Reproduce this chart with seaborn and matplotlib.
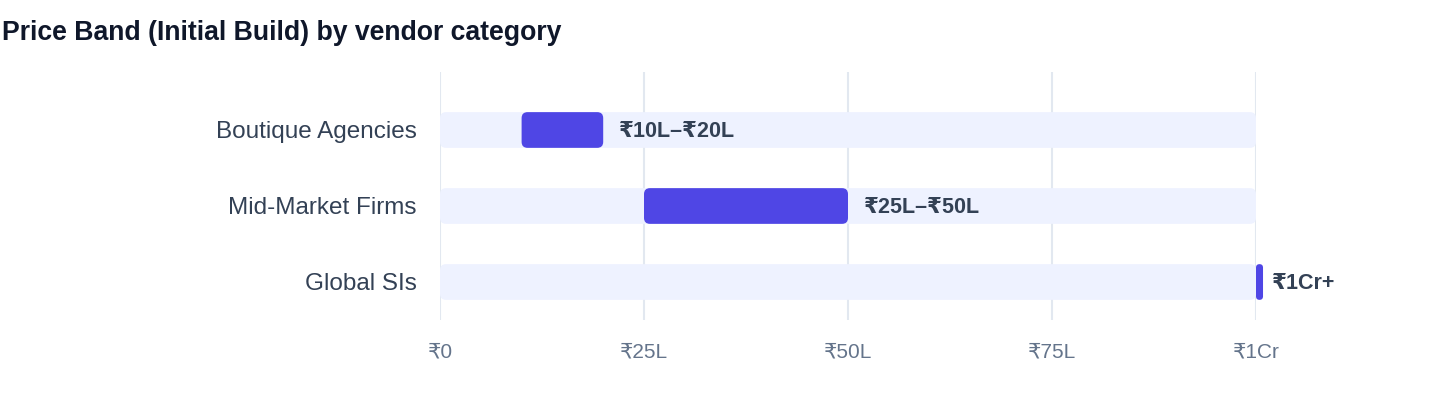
import matplotlib
matplotlib.use("Agg")
import matplotlib.pyplot as plt
from matplotlib.patches import FancyBboxPatch
import seaborn as sns
import pandas as pd

# ---- data (values in lakh rupees) ----
categories = ["Boutique Agencies", "Mid-Market Firms", "Global SIs"]
band_low = [10, 25, 100]
band_high = [20, 50, 100]
band_labels = ["₹10L–₹20L", "₹25L–₹50L", "₹1Cr+"]
scale_max = [100, 100, 100]
tick_values = [0, 25, 50, 75, 100]
tick_labels = ["₹0", "₹25L", "₹50L", "₹75L", "₹1Cr"]
title = "Price Band (Initial Build) by vendor category"

# ---- style ----
sns.set_theme(style="white")
plt.rcParams["font.family"] = ["Liberation Sans", "DejaVu Sans"]

band_color = "#4F46E5"
track_color = "#EEF2FF"
grid_color = "#E2E8F0"
label_color = "#334155"
tick_color = "#64748B"
title_color = "#0F172A"

W, H = 1440, 408
fig = plt.figure(figsize=(W / 100, H / 100), dpi=100)
ax = fig.add_axes([440 / W, 88 / H, 816 / W, 248 / H])

df = pd.DataFrame({"category": categories, "max": scale_max,
                   "low": band_low, "high": band_high})

bar_h = 0.47
sns.barplot(data=df, x="max", y="category", orient="h", color=track_color,
            width=bar_h, ax=ax, saturation=1, zorder=2)
min_w = 0.86
widths = [max(h - l, min_w) for l, h in zip(df["low"], df["high"])]
ax.barh(range(len(categories)), widths, left=df["low"], height=bar_h,
        color=band_color, zorder=3)

ax.set_xlim(0, 100)
ax.set_ylim(2.5, -0.763)

# convert rectangles into rounded ones
px_x = 816 / 100.0   # px per x unit
px_y = 248 / (2.5 + 0.763)
aspect = (1 / px_y) / (1 / px_x)
for i, p in enumerate(list(ax.patches)):
    x0, y0, w, h = p.get_x(), p.get_y(), p.get_width(), p.get_height()
    fc = p.get_facecolor()
    z = p.get_zorder()
    p.remove()
    r = min(6 / px_x, w / 2)
    fb = FancyBboxPatch((x0, y0), w, h,
                        boxstyle=f"round,pad=0,rounding_size={r}",
                        mutation_aspect=aspect, fc=fc, ec="none",
                        zorder=z, clip_on=False)
    ax.add_patch(fb)

for i, (hi, txt) in enumerate(zip(df["high"], band_labels)):
    ax.annotate(txt, xy=(hi, i), xytext=(16 * 0.72, -2 * 0.72), textcoords="offset points",
                ha="left", va="center", fontsize=15.5, fontweight="bold",
                color=label_color, annotation_clip=False, zorder=5)

ax.set_xticks(tick_values)
ax.set_xticklabels(tick_labels)
ax.tick_params(axis="x", length=0, pad=16, labelsize=15, labelcolor=tick_color)
ax.tick_params(axis="y", length=0, pad=17, labelsize=17.5, labelcolor=label_color)
ax.set_xlabel("")
ax.set_ylabel("")
ax.grid(axis="x", color=grid_color, lw=1.5, zorder=0)
ax.grid(axis="y", visible=False)
ax.set_axisbelow(True)
for s in ax.spines.values():
    s.set_visible(False)

fig.text(2 / W, 1 - 33 / H, title, ha="left", va="center", fontsize=19.2,
         fontweight="bold", color=title_color)

fig.savefig("out.png", dpi=100)
